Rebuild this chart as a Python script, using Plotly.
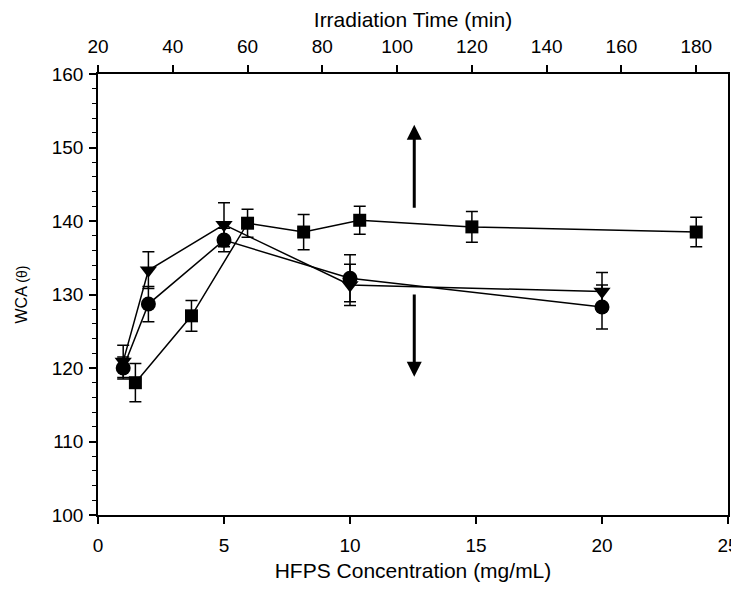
import plotly.graph_objects as go

# Squares: WCA vs irradiation time (top axis)
time_min = [30, 45, 60, 75, 90, 120, 180]
wca_time = [118.0, 127.1, 139.7, 138.5, 140.1, 139.2, 138.5]
err_time = [2.6, 2.1, 1.9, 2.4, 1.9, 2.1, 2.0]

# Circles and triangles: WCA vs HFPS concentration (bottom axis)
conc = [1, 2, 5, 10, 20]
wca_circle = [120.0, 128.7, 137.4, 132.2, 128.3]
err_circle = [1.5, 2.4, 1.6, 3.2, 3.0]
wca_tri = [120.9, 133.3, 139.5, 131.3, 130.4]
err_tri = [2.2, 2.5, 3.0, 2.8, 2.6]

conc_ticks = [0, 5, 10, 15, 20, 25]
time_ticks = [20, 40, 60, 80, 100, 120, 140, 160, 180]
wca_ticks = [100, 110, 120, 130, 140, 150, 160]

arrow_x = 12.55
arrow_up = (141.6, 153.1)
arrow_down = (130.2, 118.8)

FONT = "Liberation Sans, Arial, sans-serif"
BLACK = "#000000"

fig = go.Figure()

def err(vals):
    return dict(type="data", array=vals, visible=True, color=BLACK, thickness=1.5, width=6)

fig.add_trace(go.Scatter(
    x=conc, y=wca_tri, mode="lines+markers", error_y=err(err_tri),
    line=dict(color=BLACK, width=1.5),
    marker=dict(symbol="triangle-down", size=15, color=BLACK),
    showlegend=False))
fig.add_trace(go.Scatter(
    x=conc, y=wca_circle, mode="lines+markers", error_y=err(err_circle),
    line=dict(color=BLACK, width=1.5),
    marker=dict(symbol="circle", size=15, color=BLACK),
    showlegend=False))
fig.add_trace(go.Scatter(
    x=time_min, y=wca_time, mode="lines+markers", error_y=err(err_time),
    xaxis="x2",
    line=dict(color=BLACK, width=1.5),
    marker=dict(symbol="square", size=13, color=BLACK),
    showlegend=False))

for (y0, y1) in (arrow_up, arrow_down):
    fig.add_annotation(x=arrow_x, y=y1, ax=arrow_x, ay=y0, xref="x", yref="y",
                       axref="x", ayref="y", showarrow=True, arrowhead=2,
                       arrowsize=1, arrowwidth=3, arrowcolor=BLACK, text="")

tickfont = dict(family=FONT, size=19, color=BLACK)
titlefont = dict(family=FONT, size=21, color=BLACK)
common = dict(showline=True, linecolor=BLACK, linewidth=1.5, ticks="outside",
              ticklen=7, tickwidth=1.5, tickcolor=BLACK, showgrid=False,
              zeroline=False, tickfont=tickfont, automargin=False,
              ticklabeloverflow="allow")

fig.update_layout(
    width=731, height=574,
    margin=dict(l=90, r=11, t=66, b=67),
    paper_bgcolor="white", plot_bgcolor="white",
    font=dict(family=FONT, color=BLACK),
    xaxis=dict(range=[0, 25], tickvals=conc_ticks, ticklabelstandoff=5,
               title=dict(text="HFPS Concentration (mg/mL)", font=titlefont, standoff=12),
               **common),
    xaxis2=dict(range=[20, 188.5], tickvals=time_ticks,
                overlaying="x", side="top", anchor="y", ticklabelstandoff=5,
                title=dict(text="Irradiation Time (min)", font=titlefont, standoff=15),
                **common),
    yaxis=dict(range=[100, 160], tickvals=wca_ticks, mirror=True,
               ticklabelstandoff=2,
               minor=dict(dtick=2, ticks="outside", ticklen=4, tickwidth=1, tickcolor=BLACK),
               title=dict(text="WCA <span style='font-size:14px'>(θ)</span>",
                          font=dict(family=FONT, size=16, color=BLACK), standoff=20),
               **common),
)

fig.write_html("out.html")
